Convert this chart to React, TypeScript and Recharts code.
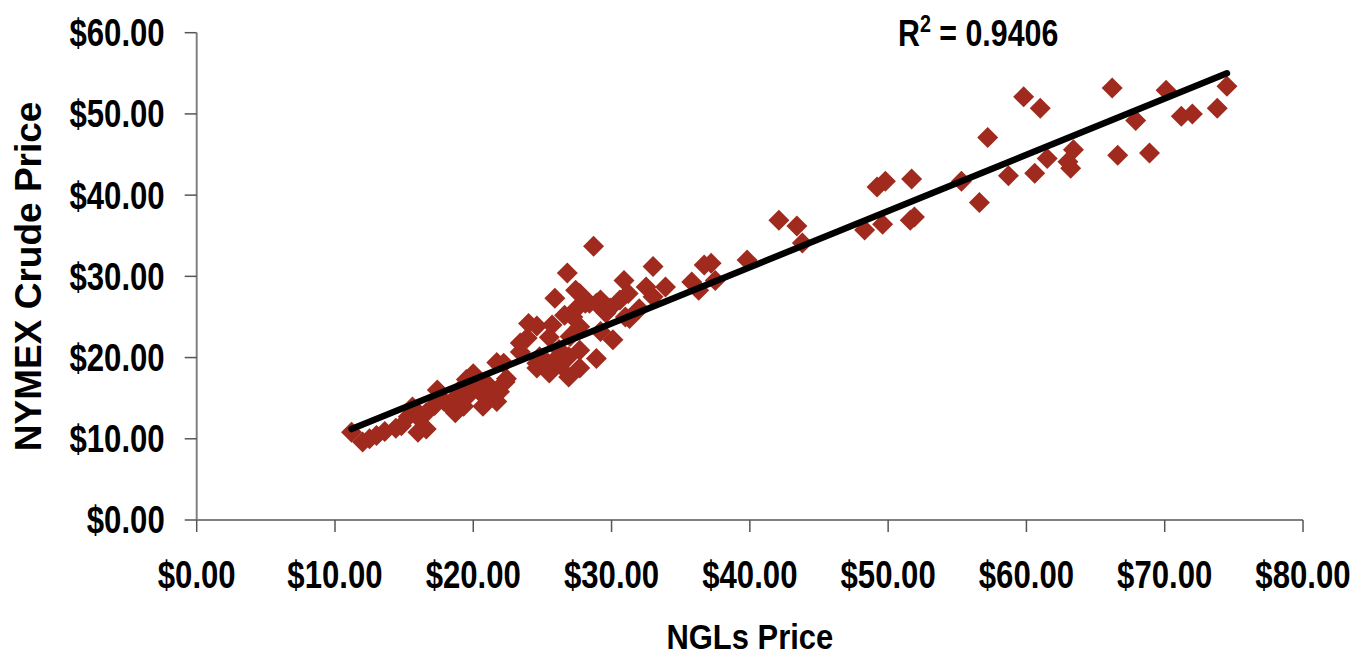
import React from 'react';
import { ScatterChart, Scatter, XAxis, YAxis, Label } from 'recharts';

// NGL price (x) and NYMEX crude price (y)
const nglPrice = [
  11.2, 12.0, 12.5, 13.0, 13.6, 14.4, 14.8, 15.3, 15.6, 16.1, 16.0, 16.6, 16.6, 17.2, 17.4, 17.9, 18.5, 18.9,
  19.3, 19.5, 19.3, 18.7, 20.0, 20.5, 19.8, 20.7, 21.1, 21.7, 22.3, 21.7, 21.9, 20.3, 22.4, 22.2, 20.8,
  23.4, 23.9, 23.4, 24.0, 24.6, 24.6, 25.5, 25.9, 24.6, 24.8, 25.4, 25.7, 25.9, 26.6, 26.8, 27.5, 27.7,
  28.1, 27.7, 27.0, 27.7, 26.9, 26.3, 26.9, 27.7, 27.4, 27.2, 26.2, 25.5,
  28.7, 28.9, 29.2, 29.9, 30.6, 31.0, 30.1, 29.2, 28.9, 30.9, 31.2, 32.0, 31.3, 32.5, 33.0, 33.0, 33.9,
  35.8, 36.3, 36.7, 37.2, 37.5, 28.4, 29.6,
  39.8, 42.1, 43.4, 43.8, 48.3, 49.2, 49.8, 49.6, 51.7, 51.6, 51.9, 55.3,
  56.6, 57.2, 59.8, 61.0, 58.7, 60.6, 61.5, 63.4, 63.0, 63.2, 66.2, 66.6, 67.9, 68.9, 70.1, 71.2, 72.0,
  73.8, 74.5,
];
const crudePrice = [
  10.8, 9.6, 10.0, 10.4, 10.9, 11.3, 11.6, 12.7, 13.9, 12.5, 10.8, 11.2, 13.2, 14.1, 16.0, 14.6, 13.7, 15.4,
  16.5, 17.3, 14.0, 13.2, 18.0, 16.0, 15.6, 14.0, 16.6, 19.4, 17.0, 14.6, 15.8, 17.2, 17.4, 19.3, 15.2,
  21.8, 22.4, 20.7, 24.2, 23.9, 19.3, 18.1, 19.7, 18.7, 20.1, 19.3, 24.0, 27.3, 25.2, 30.4, 26.1, 27.9,
  26.7, 23.8, 22.6, 20.9, 20.1, 19.1, 17.6, 18.7, 28.3, 25.0, 21.0, 22.5,
  33.7, 26.7, 27.1, 26.1, 27.1, 25.0, 22.2, 23.2, 19.9, 29.5, 27.9, 26.0, 24.8, 28.7, 31.2, 27.5, 28.7,
  29.3, 28.3, 31.4, 31.6, 29.5, 26.7, 25.5,
  32.0, 36.9, 36.2, 34.1, 35.7, 41.0, 41.7, 36.4, 42.0, 36.9, 37.3, 41.7,
  39.1, 47.1, 52.1, 50.7, 42.4, 42.7, 44.5, 45.6, 44.1, 43.3, 53.2, 44.9, 49.2, 45.2, 52.9, 49.7, 50.0,
  50.7, 53.4,
];

// linear trend line ends, as drawn
const trendX = [11.2, 74.5];
const trendY = [11.2, 55.0];

const xTicks = [0, 10, 20, 30, 40, 50, 60, 70, 80];
const yTicks = [0, 10, 20, 30, 40, 50, 60];

const points = nglPrice.map((x, i) => ({ x, y: crudePrice[i] }));
const trend = trendX.map((x, i) => ({ x, y: trendY[i] }));

const RED = '#A12A1E';
const SANS = "'Liberation Sans', Arial, sans-serif";
// no narrow face installed, so the regular bold face is squeezed sideways
const SQUEEZE = 0.82;

const money = (v: number) => `$${v.toFixed(2)}`;

const NarrowTick = (props: any) => {
  const { x, y, payload, textAnchor, orientation } = props;
  const dy = orientation === 'bottom' ? '0.71em' : '0.355em';
  return (
    <text
      transform={`translate(${x},${y}) scale(${SQUEEZE},1)`}
      textAnchor={textAnchor}
      dy={dy}
      fontFamily={SANS}
      fontSize={38}
      fontWeight={700}
      fill="#000"
    >
      {money(payload.value)}
    </text>
  );
};

const Diamond = (props: any) => {
  const { cx, cy } = props;
  const h = 10.5;
  return <path d={`M${cx},${cy - h}L${cx + h},${cy}L${cx},${cy + h}L${cx - h},${cy}Z`} fill={RED} />;
};

const NoDot = () => <g />;

export default function App() {
  return (
    <div style={{ position: 'relative', width: 1350, height: 650 }}>
      <ScatterChart width={1350} height={650} margin={{ top: 24.7, right: 55, bottom: 0, left: 0 }}>
        <XAxis
          type="number"
          dataKey="x"
          domain={[0, 80]}
          ticks={xTicks}
          tick={<NarrowTick orientation="bottom" />}
          tickSize={12}
          tickMargin={29}
          height={138}
          axisLine={{ stroke: '#808080', strokeWidth: 2 }}
          tickLine={{ stroke: '#555', strokeWidth: 1.5 }}
          interval={0}
        >
          <Label
            content={({ viewBox }: any) => {
              const cx = viewBox.x + viewBox.width / 2;
              return (
                <text
                  transform={`translate(${cx},641) scale(0.86,1)`}
                  textAnchor="middle"
                  fontFamily={SANS}
                  fontSize={36}
                  fontWeight={700}
                >
                  NGLs Price
                </text>
              );
            }}
          />
        </XAxis>
        <YAxis
          type="number"
          dataKey="y"
          domain={[0, 60]}
          ticks={yTicks}
          tick={<NarrowTick orientation="left" />}
          tickSize={12}
          tickMargin={20}
          width={188.7}
          axisLine={{ stroke: '#808080', strokeWidth: 2 }}
          tickLine={{ stroke: '#555', strokeWidth: 1.5 }}
          interval={0}
        >
          <Label
            content={({ viewBox }: any) => {
              const cy = viewBox.y + viewBox.height / 2;
              return (
                <text
                  x={21}
                  y={cy}
                  transform={`rotate(-90, 21, ${cy})`}
                  textAnchor="middle"
                  dominantBaseline="central"
                  fontFamily={SANS}
                  fontSize={37}
                  fontWeight={700}
                >
                  NYMEX Crude Price
                </text>
              );
            }}
          />
        </YAxis>
        <Scatter data={points} shape={<Diamond />} isAnimationActive={false} />
        <Scatter
          data={trend}
          line={{ stroke: '#000', strokeWidth: 6.5, strokeLinecap: 'round' }}
          shape={<NoDot />}
          isAnimationActive={false}
        />
      </ScatterChart>
      <div
        style={{
          position: 'absolute',
          left: 890,
          top: 6,
          fontFamily: SANS,
          fontSize: 37,
          fontWeight: 700,
          lineHeight: '40px',
          whiteSpace: 'nowrap',
          transform: `scaleX(${SQUEEZE})`,
          transformOrigin: 'left top',
        }}
      >
        R<sup style={{ fontSize: 24, verticalAlign: 'top', lineHeight: '20px' }}>2</sup> = 0.9406
      </div>
    </div>
  );
}
